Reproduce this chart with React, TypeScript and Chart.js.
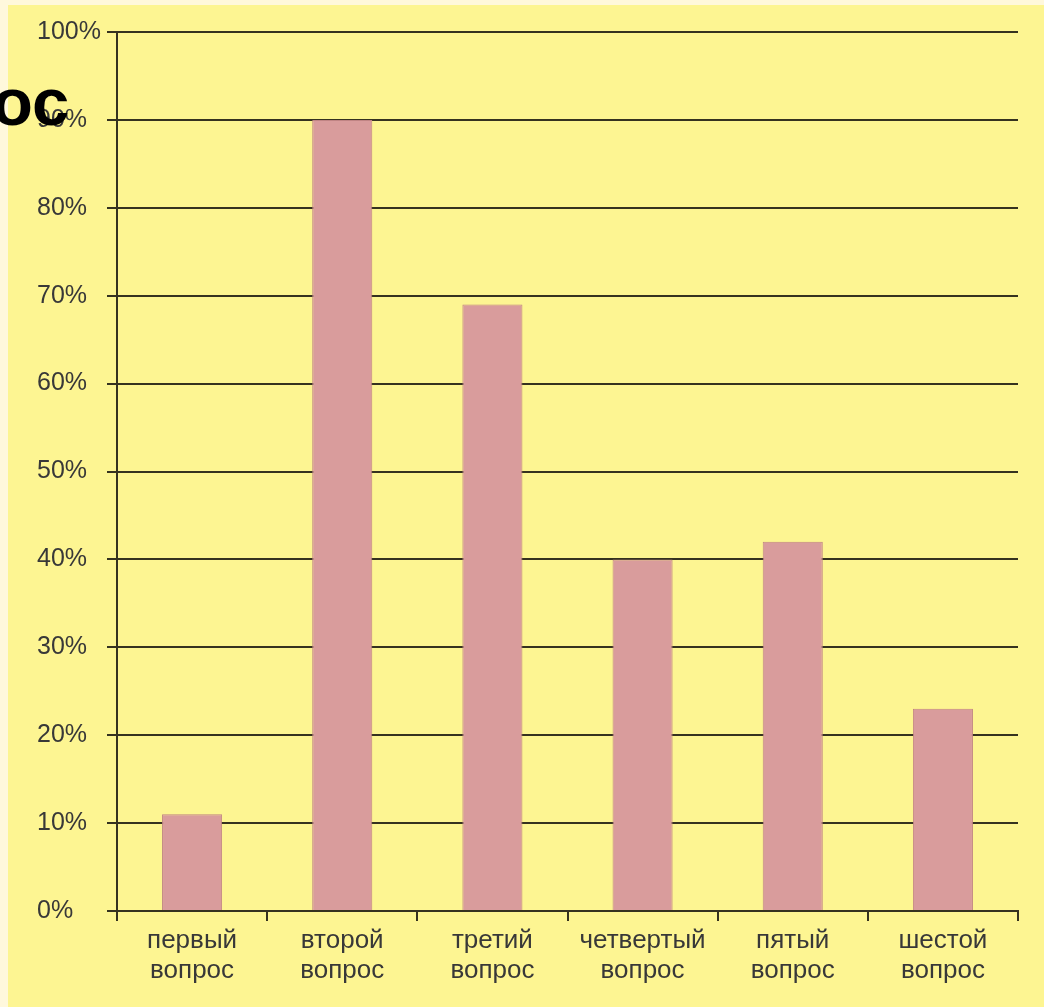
import React, { useEffect, useRef } from "react";
import { Chart, registerables } from "chart.js";

Chart.register(...registerables);

const categories: string[][] = [
  ["первый", "вопрос"],
  ["второй", "вопрос"],
  ["третий", "вопрос"],
  ["четвертый", "вопрос"],
  ["пятый", "вопрос"],
  ["шестой", "вопрос"],
];
const values: number[] = [11, 90, 69, 40, 42, 23];
const yTicks: number[] = [0, 10, 20, 30, 40, 50, 60, 70, 80, 90, 100];

const DARK = "#35321f";
const FONT = "'Liberation Sans', Arial, sans-serif";

export default function App() {
  const ref = useRef<HTMLCanvasElement | null>(null);

  useEffect(() => {
    document.body.style.margin = "0";
    const ctx = ref.current!;
    const chart = new Chart(ctx, {
      type: "bar",
      data: {
        labels: categories,
        datasets: [
          {
            data: values,
            backgroundColor: "#d99c9c",
            borderColor: "#c08484",
            borderWidth: 1,
            barPercentage: 0.4,
            categoryPercentage: 1,
          },
        ],
      },
      options: {
        animation: false,
        responsive: false,
        maintainAspectRatio: false,
        layout: { padding: { left: 37, top: 32, right: 26, bottom: 0 } },
        plugins: { legend: { display: false }, tooltip: { enabled: false } },
        scales: {
          x: {
            offset: true,
            afterFit: (s: any) => {
              s.height = 96;
            },
            grid: {
              offset: true,
              drawOnChartArea: false,
              drawTicks: true,
              tickLength: 10,
              color: DARK,
              lineWidth: 2,
            },
            border: { display: true, color: DARK, width: 2 },
            ticks: {
              color: "#383838",
              padding: 5,
              maxRotation: 0,
              autoSkip: false,
              font: { family: FONT, size: 26, lineHeight: 1.15 },
            },
          },
          y: {
            min: 0,
            max: 100,
            afterFit: (s: any) => {
              s.width = 80;
            },
            afterBuildTicks: (s: any) => {
              s.ticks = yTicks.map((v) => ({ value: v }));
            },
            grid: {
              drawTicks: true,
              tickLength: 10,
              color: DARK,
              lineWidth: 2,
            },
            border: { display: true, color: DARK, width: 2 },
            ticks: {
              color: "#383838",
              crossAlign: "far",
              padding: 0,
              font: { family: FONT, size: 25 },
              callback: (v: any) => v + "%",
            },
          },
        },
      },
    });
    return () => chart.destroy();
  }, []);

  return (
    <div
      style={{
        position: "fixed",
        left: 0,
        top: 0,
        width: 1044,
        height: 1007,
        background: "#fff8dc",
        overflow: "hidden",
      }}
    >
      <div
        style={{
          position: "absolute",
          left: 8,
          top: 5,
          right: 0,
          bottom: 0,
          background: "#fdf592",
        }}
      />
      <canvas
        ref={ref}
        width={1044}
        height={1007}
        style={{ position: "absolute", left: 0, top: 0, width: 1044, height: 1007 }}
      />
      <div
        style={{
          position: "absolute",
          left: -8,
          top: 68,
          fontFamily: FONT,
          fontWeight: "bold",
          fontSize: 67,
          lineHeight: 1,
          color: "#000",
          whiteSpace: "nowrap",
        }}
      >
        ос
      </div>
    </div>
  );
}
